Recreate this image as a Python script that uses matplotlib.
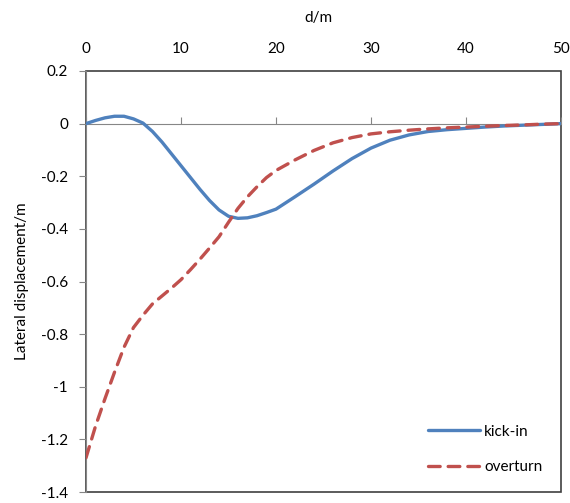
import matplotlib.pyplot as plt
from matplotlib.patches import Rectangle

# distance d (m) and lateral displacement (m)
d_near = [0, 1, 2, 3, 4, 5, 6, 7, 8, 9, 10, 11, 12, 13, 14, 15, 16, 17, 18, 19, 20]
d_far = [22, 24, 26, 28, 30, 32, 34, 36, 38, 40, 42, 44, 46, 48, 50]
d = d_near + d_far

kick_in = [0, 0.012, 0.022, 0.028, 0.028, 0.018, 0.002, -0.03, -0.07, -0.115,
           -0.16, -0.205, -0.25, -0.292, -0.328, -0.352, -0.36, -0.358, -0.35, -0.338,
           -0.325, -0.278, -0.23, -0.18, -0.133, -0.093, -0.063, -0.043, -0.03,
           -0.023, -0.018, -0.013, -0.009, -0.006, -0.003, 0]
overturn = [-1.27, -1.15, -1.045, -0.945, -0.85, -0.775, -0.728, -0.685, -0.655, -0.625,
            -0.593, -0.555, -0.515, -0.473, -0.43, -0.375, -0.322, -0.278, -0.24, -0.205,
            -0.178, -0.138, -0.102, -0.073, -0.053, -0.039, -0.031, -0.025, -0.02,
            -0.016, -0.013, -0.01, -0.007, -0.005, -0.002, 0]

x_ticks = [0, 10, 20, 30, 40, 50]
y_ticks = [0.2, 0, -0.2, -0.4, -0.6, -0.8, -1, -1.2, -1.4]
y_labels = ['0.2', '0', '-0.2', '-0.4', '-0.6', '-0.8', '-1', '-1.2', '-1.4']

plt.rcParams['font.family'] = ['Lato', 'DejaVu Sans']

fig = plt.figure(figsize=(5.7, 5.03), dpi=100)
ax = fig.add_axes([86 / 570, 1 - 492 / 503, 475 / 570, 421 / 503])

ax.plot(d, kick_in, color='#4F81BD', lw=2.4, label='kick-in', solid_capstyle='round', zorder=3)
ax.plot(d, overturn, color='#C0504D', lw=2.4, label='overturn', dashes=(3.5, 2.4),
        dash_capstyle='round', zorder=3)

ax.set_xlim(0, 50)
ax.set_ylim(-1.4, 0.2)

# horizontal axis crosses at y = 0, labels on top
ax.spines['bottom'].set_position(('data', 0))
ax.spines['bottom'].set_color('#868686')
ax.spines['left'].set_color('#868686')
ax.spines['top'].set_visible(False)
ax.spines['right'].set_visible(False)
ax.add_patch(Rectangle((0, 0), 1, 1, transform=ax.transAxes, fill=False,
                       edgecolor='#404040', lw=1.2, clip_on=False, zorder=1))

ax.set_xticks(x_ticks)
ax.tick_params(axis='x', direction='in', length=5, color='#868686', bottom=True, top=False,
               labelbottom=False, labeltop=True, labelsize=11, pad=10.5)
ax.set_yticks(y_ticks)
ax.set_yticklabels(y_labels)
ax.tick_params(axis='y', direction='out', length=5, color='#868686', labelsize=11, pad=8)

ax.set_ylabel('Lateral displacement/m', fontsize=11)
ax.yaxis.set_label_coords(-0.121, 0.5)
fig.text(318 / 570, 1 - 18 / 503, 'd/m', ha='center', va='center', fontsize=11)

ax.legend(loc='lower right', frameon=False, fontsize=11, handlelength=3.4,
          labelspacing=1.4, handletextpad=0.3, bbox_to_anchor=(0.99, 0.01))

fig.savefig('out.png', dpi=100)
